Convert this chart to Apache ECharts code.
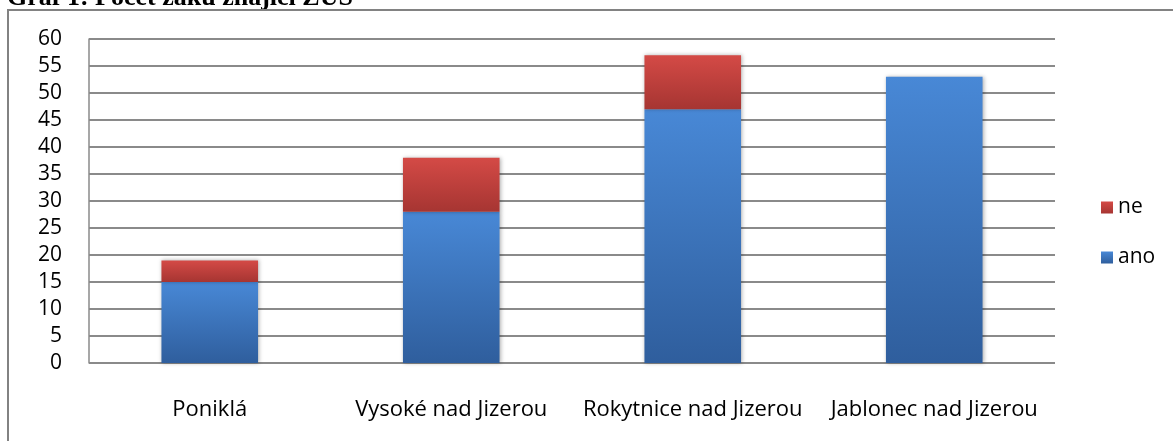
<!DOCTYPE html>
<html>
<head>
<meta charset="utf-8">
<script src="https://cdn.jsdelivr.net/npm/echarts@6/dist/echarts.min.js"></script>
<style>
  html, body { margin: 0; padding: 0; background: #fff; }
  #graf { width: 1173px; height: 441px; }
</style>
</head>
<body>
<div id="graf"></div>
<script>
// Graf 1: Počet žáků znající ZUŠ
var skoly = ['Poniklá', 'Vysoké nad Jizerou', 'Rokytnice nad Jizerou', 'Jablonec nad Jizerou'];
var ano = [15, 28, 47, 53];
var ne = [4, 10, 10, 0];
var osaY = { min: 0, max: 60, interval: 5 };

(function() {
  var chartDom = document.getElementById('graf');
  var myChart = echarts.init(chartDom);
  var option;

  var pismo = 'Open Sans';

  var modra = new echarts.graphic.LinearGradient(0, 0, 0, 1, [
    { offset: 0, color: '#4888d6' },
    { offset: 1, color: '#2f5e9d' }
  ]);
  var cervena = new echarts.graphic.LinearGradient(0, 0, 0, 1, [
    { offset: 0, color: '#d44a46' },
    { offset: 1, color: '#a63532' }
  ]);

  option = {
    animation: false,
    textStyle: { fontFamily: pismo },
    graphic: [
      {
        type: 'text',
        left: 7,
        top: -15,
        style: {
          text: 'Graf 1: Počet žáků znající ZUŠ',
          font: 'bold 26px "Liberation Serif"',
          fill: '#000'
        }
      },
      {
        type: 'rect',
        shape: { x: 8, y: 10, width: 1200, height: 500 },
        style: { fill: 'none', stroke: '#828282', lineWidth: 2 }
      }
    ],
    legend: {
      data: ['ne', 'ano'],
      orient: 'vertical',
      left: 1096,
      top: 192,
      icon: 'rect',
      itemWidth: 12,
      itemHeight: 12,
      itemGap: 29,
      textStyle: { fontFamily: pismo, fontSize: 21, color: '#000' }
    },
    grid: {
      left: 89,
      right: 118,
      top: 39,
      bottom: 78
    },
    xAxis: {
      type: 'category',
      data: skoly,
      axisLine: { show: false },
      axisTick: { show: false },
      axisLabel: {
        color: '#000',
        fontSize: 22,
        margin: 36,
        interval: 0
      }
    },
    yAxis: {
      type: 'value',
      min: osaY.min,
      max: osaY.max,
      interval: osaY.interval,
      axisLine: { show: true, lineStyle: { color: '#8a8a8a', width: 1.5 } },
      axisTick: { show: false },
      axisLabel: {
        color: '#000',
        fontSize: 21,
        margin: 27
      },
      splitLine: { lineStyle: { color: '#8a8a8a', width: 2 } }
    },
    series: [
      {
        name: 'ano',
        type: 'bar',
        stack: 'celkem',
        barWidth: '40%',
        data: ano,
        itemStyle: {
          color: modra,
          shadowBlur: 4,
          shadowColor: 'rgba(0,0,0,0.3)',
          shadowOffsetX: 1
        }
      },
      {
        name: 'ne',
        type: 'bar',
        stack: 'celkem',
        barWidth: '40%',
        data: ne,
        itemStyle: {
          color: cervena,
          shadowBlur: 4,
          shadowColor: 'rgba(0,0,0,0.3)',
          shadowOffsetX: 1
        }
      }
    ]
  };

  option && myChart.setOption(option);
  window.addEventListener('resize', function() {
    myChart.resize();
  });
})();
</script>
</body>
</html>
